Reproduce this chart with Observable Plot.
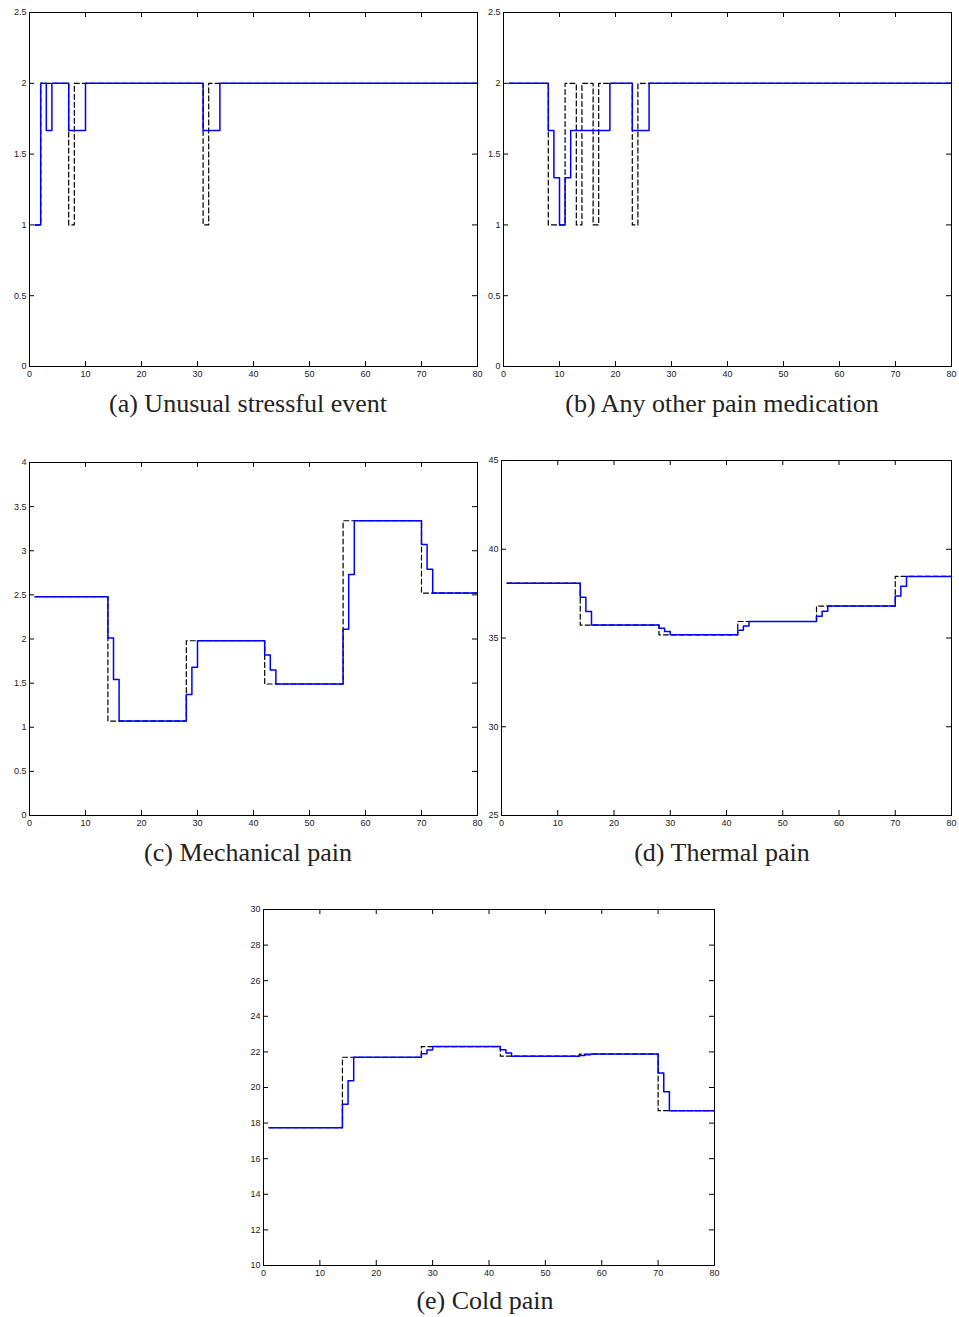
<!DOCTYPE html>
<html>
<head>
<meta charset="utf-8">
<script src="https://cdn.jsdelivr.net/npm/d3@7"></script>
<script src="https://cdn.jsdelivr.net/npm/@observablehq/plot@0.6"></script>
<style>
  html, body { margin: 0; padding: 0; background: #fff; }
  #page { position: relative; width: 959px; height: 1317px; background: #fff; overflow: hidden; }
  .panel { position: absolute; }
  .caption { position: absolute; font-family: "Liberation Serif", "DejaVu Serif", serif; font-size: 26px; line-height: 26px; color: #222; white-space: nowrap; transform: translateX(-50%); }
</style>
</head>
<body>
<div id="page"></div>
<script>
// ---- data: step change points [x, value] ----
const xTicks = [0, 10, 20, 30, 40, 50, 60, 70, 80];

const aTicks = [0, 0.5, 1, 1.5, 2, 2.5];
const aTrue = [[1,1],[2,2],[7,1],[8,2],[31,1],[32,2],[80,2]];
const aEst  = [[1,1],[2,2],[3,1.667],[4,2],[7,1.667],[10,2],[31,1.667],[34,2],[80,2]];

const bTicks = [0, 0.5, 1, 1.5, 2, 2.5];
const bTrue = [[1,2],[8,1],[11,2],[13,1],[14,2],[16,1],[17,2],[23,1],[24,2],[80,2]];
const bEst  = [[1,2],[8,1.667],[9,1.333],[10,1],[11,1.333],[12,1.667],[19,2],[23,1.667],[26,2],[80,2]];

const cTicks = [0, 0.5, 1, 1.5, 2, 2.5, 3, 3.5, 4];
const cTrue = [[1,2.48],[14,1.07],[28,1.98],[42,1.49],[56,3.34],[70,2.52],[80,2.52]];
const cEst  = [[1,2.48],[14,2.01],[15,1.54],[16,1.07],[28,1.37],[29,1.68],[30,1.98],[42,1.82],[43,1.65],[44,1.49],[56,2.11],[57,2.73],[58,3.34],[70,3.07],[71,2.79],[72,2.52],[80,2.52]];

const dTicks = [25, 30, 35, 40, 45];
const dTrue = [[1,38.09],[14,35.73],[28,35.18],[42,35.93],[56,36.8],[70,38.47],[80,38.47]];
const dEst  = [[1,38.09],[14,37.3],[15,36.5],[16,35.73],[28,35.55],[29,35.37],[30,35.18],[42,35.43],[43,35.68],[44,35.93],[56,36.22],[57,36.51],[58,36.8],[70,37.36],[71,37.91],[72,38.47],[80,38.47]];

const eTicks = [10, 12, 14, 16, 18, 20, 22, 24, 26, 28, 30];
const eTrue = [[1,17.74],[14,21.7],[28,22.3],[42,21.76],[56,21.88],[70,18.7],[80,18.7]];
const eEst  = [[1,17.74],[14,19.06],[15,20.38],[16,21.7],[28,21.9],[29,22.1],[30,22.3],[42,22.12],[43,21.94],[44,21.76],[56,21.8],[57,21.84],[58,21.88],[70,20.82],[71,19.76],[72,18.7],[80,18.7]];

const captions = ["(a) Unusual stressful event", "(b) Any other pain medication", "(c) Mechanical pain", "(d) Thermal pain", "(e) Cold pain"];

// ---- layout ----
const panels = [
  {frame: [29, 12, 477, 366],   yDomain: [0, 2.5], yTicks: aTicks, truth: aTrue, est: aEst, caption: captions[0], cap: [248, 391]},
  {frame: [503, 12, 951, 366],  yDomain: [0, 2.5], yTicks: bTicks, truth: bTrue, est: bEst, caption: captions[1], cap: [722, 391]},
  {frame: [29, 462, 477, 815],  yDomain: [0, 4],   yTicks: cTicks, truth: cTrue, est: cEst, caption: captions[2], cap: [248, 840]},
  {frame: [501, 460, 951, 815], yDomain: [25, 45], yTicks: dTicks, truth: dTrue, est: dEst, caption: captions[3], cap: [722, 840]},
  {frame: [263, 909, 714, 1265],yDomain: [10, 30], yTicks: eTicks, truth: eTrue, est: eEst, caption: captions[4], cap: [485, 1288]}
];

const page = document.getElementById("page");
const TICK = 5;
const font = "Liberation Sans, Arial, sans-serif";
const fmt = d => String(d);

for (const p of panels) {
  const [fl, ft, fr, fb] = p.frame;
  const x0 = fl - 30, y0 = ft - 14;
  const width = fr - x0 + 8;
  const height = fb - y0 + 22;
  const pw = fr - fl, ph = fb - ft;
  const chart = Plot.plot({
    width, height,
    marginLeft: fl - x0, marginTop: ft - y0, marginRight: width - (fr - x0), marginBottom: height - (fb - y0),
    style: {background: "transparent", overflow: "visible", fontFamily: font, fontSize: "9px", color: "#000"},
    x: {domain: [0, 80], axis: null},
    y: {domain: p.yDomain, axis: null},
    marks: [
      // inward ticks on all four sides
      Plot.ruleX(xTicks, {x: d => d, insetTop: ph - TICK, stroke: "#000"}),
      Plot.ruleX(xTicks, {x: d => d, insetBottom: ph - TICK, stroke: "#000"}),
      Plot.ruleY(p.yTicks, {y: d => d, insetRight: pw - TICK, stroke: "#000"}),
      Plot.ruleY(p.yTicks, {y: d => d, insetLeft: pw - TICK, stroke: "#000"}),
      Plot.axisX(xTicks, {anchor: "bottom", tickSize: 0, tickPadding: 4, tickFormat: fmt, fill: "#222", fontSize: 9}),
      Plot.axisY(p.yTicks, {anchor: "left", tickSize: 0, tickPadding: 3, tickFormat: fmt, fill: "#222", fontSize: 9}),
      Plot.line(p.truth, {x: d => d[0], y: d => d[1], curve: "step-after", stroke: "#000", strokeWidth: 1.2, strokeDasharray: "5,3"}),
      Plot.line(p.est, {x: d => d[0], y: d => d[1], curve: "step-after", stroke: "#0000ff", strokeWidth: 1.5}),
      Plot.frame({stroke: "#000", strokeWidth: 1})
    ]
  });
  const holder = document.createElement("div");
  holder.className = "panel";
  holder.style.left = x0 + "px";
  holder.style.top = y0 + "px";
  holder.appendChild(chart);
  page.appendChild(holder);

  const cap = document.createElement("div");
  cap.className = "caption";
  cap.style.left = p.cap[0] + "px";
  cap.style.top = p.cap[1] + "px";
  cap.textContent = p.caption;
  page.appendChild(cap);
}
</script>
</body>
</html>
